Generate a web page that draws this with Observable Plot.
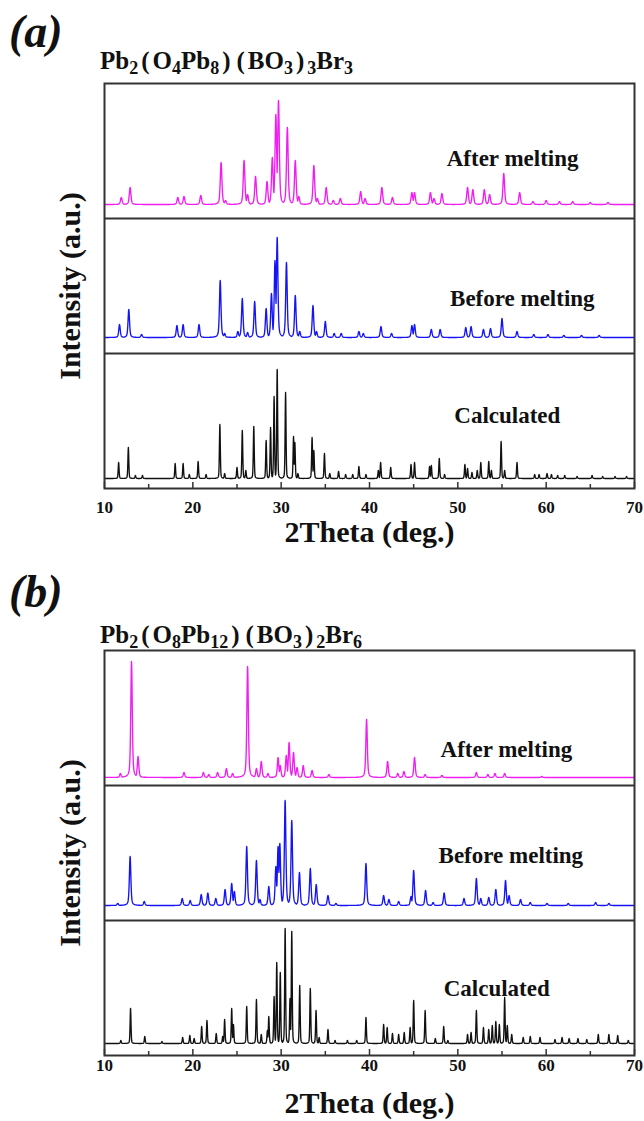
<!DOCTYPE html>
<html>
<head>
<meta charset="utf-8">
<script src="https://cdn.jsdelivr.net/npm/d3@7"></script>
<script src="https://cdn.jsdelivr.net/npm/@observablehq/plot@0.6"></script>
<style>
  body { margin: 0; background: #fff; }
  #page { position: relative; width: 644px; height: 1121px; overflow: hidden;
          font-family: "Liberation Serif", "Times New Roman", serif; color: #111; }
  .tag { position: absolute; left: 9px; font-weight: bold; font-style: italic;
         font-size: 46px; line-height: 1; }
  .formula { position: absolute; left: 100px; font-weight: bold; font-size: 25px;
             line-height: 1; white-space: nowrap; }
  .formula sub { font-size: 0.72em; vertical-align: -0.28em; line-height: 0; }
  .formula .p { margin: 0 3px; }
  .panel { position: absolute; left: 0; }
</style>
</head>
<body>
<div id="page">
  <div class="tag" style="top:9px">(a)</div>
  <div class="formula" style="top:48px">Pb<sub>2</sub><span class="p">(</span>O<sub>4</sub>Pb<sub>8</sub><span class="p">)</span><span class="p">(</span>BO<sub>3</sub><span class="p">)</span><sub>3</sub>Br<sub>3</sub></div>
  <div class="panel" id="panelA" style="top:60px"></div>
  <div class="tag" style="top:569px">(b)</div>
  <div class="formula" style="top:622px">Pb<sub>2</sub><span class="p">(</span>O<sub>8</sub>Pb<sub>12</sub><span class="p">)</span><span class="p">(</span>BO<sub>3</sub><span class="p">)</span><sub>2</sub>Br<sub>6</sub></div>
  <div class="panel" id="panelB" style="top:627px"></div>
</div>
<script>
// 2θ axis ticks
const xTicks = [10, 20, 30, 40, 50, 60, 70];
const xMinorTicks = [15, 25, 35, 45, 55, 65];

// Pattern names, bottom to top
const patternNames = ["Calculated", "Before melting", "After melting"];
const patternColors = ["#111111", "#1414f4", "#f01ef0"];

// Pb2(O4Pb8)(BO3)3Br3 — reflections: [2θ (deg.), intensity above background]
const aAfterPeaks = [
  [11.9, 7], [12.9, 17], [18.3, 7], [19.0, 8], [20.9, 9], [23.2, 42], [23.7, 4],
  [25.8, 44], [26.2, 10], [27.1, 28], [28.4, 23], [29.0, 47], [29.4, 90], [29.7, 104],
  [30.7, 77], [31.6, 44], [32.0, 8], [33.7, 39], [34.1, 6], [35.1, 17], [35.9, 4],
  [36.7, 6], [39.0, 13], [39.5, 6], [41.4, 17], [42.6, 7], [44.8, 12], [45.1, 12],
  [46.9, 12], [47.3, 6], [48.2, 11], [51.1, 17], [51.7, 15], [53.0, 15], [53.6, 10],
  [55.2, 31], [57.0, 12], [58.5, 3], [60.0, 4], [61.5, 3], [63.0, 3], [65.0, 2], [67.0, 2]
];
const aAfterBackground = 14;

const aBeforePeaks = [
  [11.7, 13], [12.75, 28], [14.2, 3], [18.2, 12], [18.9, 13], [20.7, 13], [23.1, 57],
  [23.6, 4], [25.1, 6], [25.6, 39], [26.2, 5], [27.0, 36], [28.3, 29], [28.9, 44],
  [29.3, 77], [29.55, 100], [30.6, 75], [31.6, 42], [32.1, 6], [33.6, 32], [34.0, 6],
  [35.0, 16], [36.0, 4], [36.8, 4], [38.8, 6], [39.3, 4], [41.3, 11], [42.5, 4],
  [44.8, 12], [45.1, 13], [47.0, 8], [48.0, 8], [50.9, 10], [51.5, 11], [52.9, 8],
  [53.7, 9], [55.0, 19], [56.7, 6], [58.6, 3], [60.2, 3], [62.0, 2], [64.0, 2], [66.0, 2]
];
const aBeforeBackground = 16;

const aCalcPeaks = [
  [11.6, 16], [12.7, 31], [13.5, 3], [14.3, 3], [18.0, 15], [18.9, 15], [19.6, 4],
  [20.6, 17], [21.5, 4], [23.06, 54], [23.6, 5], [25.0, 11], [25.6, 48], [26.0, 8],
  [26.9, 52], [28.3, 38], [28.8, 51], [29.2, 82], [29.55, 109], [30.5, 86], [31.4, 42],
  [31.55, 36], [31.9, 5], [33.5, 41], [33.7, 28], [34.9, 25], [35.5, 5], [36.5, 7],
  [37.3, 4], [38.1, 4], [38.8, 12], [39.6, 4], [41.0, 8], [41.26, 16], [42.4, 11],
  [44.7, 14], [45.1, 16], [46.8, 12], [47.0, 13], [47.9, 20], [48.5, 4], [50.8, 14],
  [51.1, 10], [51.6, 6], [52.2, 8], [52.6, 16], [53.5, 17], [53.8, 8], [54.9, 37],
  [55.3, 8], [56.7, 16], [58.7, 4], [59.2, 4], [60.1, 5], [60.6, 4], [61.3, 3],
  [62.1, 3], [63.5, 2], [65.2, 3], [66.4, 2], [67.8, 2], [69.1, 2]
];
const aCalcBackground = 10;

// Pb2(O8Pb12)(BO3)2Br6 — reflections: [2θ (deg.), intensity above background]
const bAfterPeaks = [
  [11.8, 4], [13.06, 116], [13.8, 21], [19.0, 5], [21.2, 5], [21.8, 3], [22.8, 5],
  [23.8, 9], [24.5, 4], [26.2, 111], [27.2, 9], [27.75, 16], [28.5, 4], [29.65, 20],
  [29.9, 12], [30.58, 22], [30.9, 35], [31.4, 25], [31.8, 10], [32.5, 12], [33.5, 7],
  [35.4, 3], [39.67, 58], [42.05, 16], [43.2, 4], [43.9, 6], [45.1, 20], [46.3, 3],
  [48.2, 2], [52.1, 5], [53.4, 3], [54.2, 4], [55.3, 4], [59.5, 1]
];
const bAfterBackground = 8;

const bBeforePeaks = [
  [11.5, 2], [12.9, 49], [14.5, 4], [18.8, 7], [19.7, 5], [20.95, 11], [21.7, 12.5],
  [22.6, 7], [23.65, 16], [24.4, 22], [24.7, 14], [26.1, 59], [27.2, 45], [27.6, 6],
  [28.6, 19], [29.4, 39], [29.65, 59], [29.85, 62], [30.45, 105], [31.2, 85],
  [32.07, 33], [33.3, 37], [33.97, 21], [35.3, 10], [36.2, 2], [39.6, 42], [41.6, 10],
  [42.2, 6], [43.3, 4], [44.7, 9], [45.0, 35], [46.35, 15], [47.2, 3], [48.45, 12.5],
  [50.7, 7], [52.1, 27], [52.6, 7], [53.5, 8], [54.3, 16], [55.4, 25], [55.8, 10],
  [57.1, 6], [58.2, 3], [60.1, 2], [62.5, 2], [65.6, 3], [67.1, 2]
];
const bBeforeBackground = 15;

const bCalcPeaks = [
  [11.85, 3], [12.95, 35], [14.56, 7], [16.5, 2], [18.85, 6], [19.66, 8], [20.15, 5],
  [21.0, 17], [21.6, 23], [22.65, 10], [23.38, 7], [23.6, 24], [24.4, 35], [24.6, 19],
  [26.1, 37], [27.2, 44], [27.75, 9], [28.44, 13], [28.6, 27], [29.2, 47], [29.5, 81],
  [29.9, 71], [30.45, 115], [31.0, 45], [31.2, 112], [32.1, 58], [33.3, 55], [33.95, 33],
  [34.3, 6], [35.3, 14], [36.1, 3], [37.5, 3], [38.55, 3], [39.6, 26], [41.6, 19],
  [42.0, 16], [42.6, 10], [43.3, 9], [43.93, 11], [44.6, 16], [45.0, 43], [46.3, 33],
  [47.45, 5], [48.4, 17], [48.87, 3], [51.1, 9], [51.5, 11], [52.1, 33], [52.9, 16],
  [53.5, 14], [53.9, 18], [54.3, 22], [54.7, 19], [55.3, 46], [55.6, 18], [56.1, 9],
  [57.4, 6], [58.2, 7], [59.3, 6], [61.0, 4], [61.8, 6], [62.6, 5], [63.6, 5],
  [64.6, 4], [65.9, 9], [67.1, 9], [68.1, 8], [69.3, 3]
];
const bCalcBackground = 12;

// Each stacked pattern occupies one band of the shared intensity axis
const bandHeight = 135;

// Pseudo-Voigt line profile of a reflection list over the 2θ range
function pattern(peaks, background, fwhm, eta, band) {
  const xs = d3.range(10, 70.0001, 0.02).concat(peaks.map(p => p[0])).sort((a, b) => a - b);
  return xs.map(x => {
    let m = 0;
    for (const [c, h] of peaks) {
      const d = (x - c) / (fwhm / 2);
      const v = h * (eta / (1 + d * d) + (1 - eta) * Math.exp(-Math.LN2 * d * d));
      if (v > m) m = v;
    }
    return {x, y: band * bandHeight + background + m};
  });
}

function panel(series, labels, {tickPadding, titleOffset}) {
  const font = "Liberation Serif, Times New Roman, serif";
  return Plot.plot({
    width: 644, height: 494,
    marginTop: 23, marginBottom: 66, marginLeft: 104, marginRight: 10,
    x: {domain: [10, 70], label: null},
    y: {domain: [0, 3 * bandHeight], axis: null},
    style: {fontFamily: font, color: "#111", background: "transparent", overflow: "visible"},
    marks: [
      ...series.map((s, i) => Plot.line(s, {x: "x", y: "y", stroke: patternColors[i], strokeWidth: 1.35})),
      Plot.ruleY([bandHeight, 2 * bandHeight], {stroke: "#333", strokeWidth: 2}),
      Plot.frame({stroke: "#333", strokeWidth: 2}),
      Plot.ruleX(xTicks, {y1: 0, y2: 6, stroke: "#333", strokeWidth: 1.5}),
      Plot.ruleX(xMinorTicks, {y1: 0, y2: 4, stroke: "#333", strokeWidth: 1.5}),
      Plot.axisX(xTicks, {tickSize: 0, tickPadding, fontSize: 17, fontWeight: "bold", fill: "#111", label: null}),
      Plot.text(labels, {x: "x", y: "y", text: "text", fontSize: 23, fontWeight: "bold", fill: "#111"}),
      Plot.text(["2Theta (deg.)"], {text: d => d, frameAnchor: "bottom", lineAnchor: "bottom", dy: titleOffset, fontSize: 30, fontWeight: "bold", fill: "#111"}),
      Plot.text(["Intensity (a.u.)"], {text: d => d, frameAnchor: "left", textAnchor: "middle", dx: -34, rotate: -90, fontSize: 30, fontWeight: "bold", fill: "#111"})
    ]
  });
}

document.getElementById("panelA").append(panel(
  [
    pattern(aCalcPeaks, aCalcBackground, 0.12, 0.3, 0),
    pattern(aBeforePeaks, aBeforeBackground, 0.2, 0.5, 1),
    pattern(aAfterPeaks, aAfterBackground, 0.22, 0.5, 2)
  ],
  [
    {x: 55.6, y: 73, text: patternNames[0]},
    {x: 57.3, y: bandHeight + 55, text: patternNames[1]},
    {x: 56.2, y: 2 * bandHeight + 60, text: patternNames[2]}
  ],
  {tickPadding: 12, titleOffset: 53}
));

document.getElementById("panelB").append(panel(
  [
    pattern(bCalcPeaks, bCalcBackground, 0.12, 0.3, 0),
    pattern(bBeforePeaks, bBeforeBackground, 0.2, 0.5, 1),
    pattern(bAfterPeaks, bAfterBackground, 0.2, 0.5, 2)
  ],
  [
    {x: 54.4, y: 67, text: patternNames[0]},
    {x: 56.0, y: bandHeight + 65, text: patternNames[1]},
    {x: 55.5, y: 2 * bandHeight + 36, text: patternNames[2]}
  ],
  {tickPadding: 3, titleOffset: 57}
));
</script>
</body>
</html>
